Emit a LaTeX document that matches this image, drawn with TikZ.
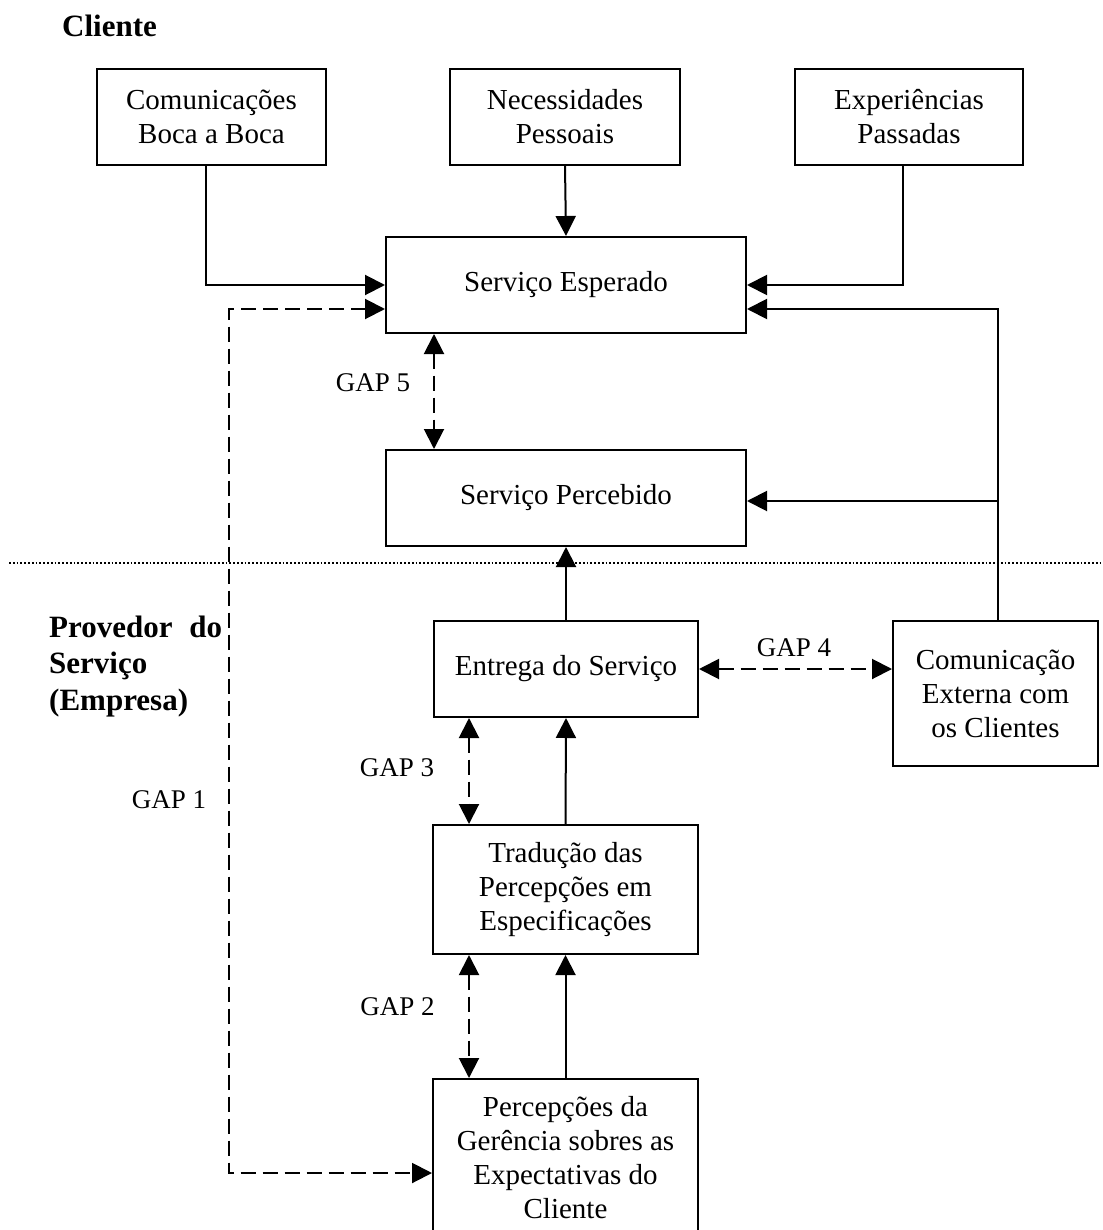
\documentclass[tikz,border=0pt]{standalone}
\usepackage{fontspec}
\setmainfont{Liberation Serif}
\usetikzlibrary{arrows.meta}
\begin{document}
\begin{tikzpicture}[x=1pt,y=-1pt,
  box/.style={draw,line width=2pt,inner sep=0pt,align=center,
    font=\fontsize{29}{34}\selectfont},
  arr/.style={line width=2pt,-{Triangle[length=20pt,width=20pt]}},
  gap/.style={line width=2pt,dash pattern=on 15pt off 7pt,
    {Triangle[length=20pt,width=20pt]}-{Triangle[length=20pt,width=20pt]}},
  gaplabel/.style={font=\fontsize{27}{32}\selectfont,inner sep=0pt},
  heading/.style={font=\bfseries\fontsize{31}{36.5}\selectfont,inner sep=0pt}]

\useasboundingbox (0,0) rectangle (1102,1230);
\clip (0,0) rectangle (1102,1230);

% section headings
\node[heading,anchor=base west] (cli) at (62,37) {Cliente};
\node[heading,anchor=base west,align=left] (prov) at (49,710)
  {\makebox[173pt][s]{Provedor do}\\Serviço\\(Empresa)};

% separator between customer and provider
\draw[line width=2pt,dash pattern=on 1.8pt off 2pt] (9,563) -- (1102,563);

% customer side
\node[box,minimum width=229pt,minimum height=96pt] (boca) at (211.5,117)
  {Comunicações\\Boca a Boca};
\node[box,minimum width=230pt,minimum height=96pt] (nec) at (565,117)
  {Necessidades\\Pessoais};
\node[box,minimum width=228pt,minimum height=96pt] (exp) at (909,117)
  {Experiências\\Passadas};
\node[box,minimum width=360pt,minimum height=96pt] (esp) at (566,285)
  {Serviço Esperado};
\node[box,minimum width=360pt,minimum height=96pt] (perc) at (566,498)
  {Serviço Percebido};

% provider side
\node[box,minimum width=264pt,minimum height=96pt] (ent) at (566,669)
  {Entrega do Serviço};
\node[box,minimum width=205pt,minimum height=145pt] (com) at (995.5,693.5)
  {Comunicação\\Externa com\\os Clientes};
\node[box,minimum width=265pt,minimum height=129pt] (trad) at (565.5,889.5)
  {Tradução das\\Percepções em\\Especificações};
\node[box,minimum width=265pt,minimum height=158pt] (ger) at (565.5,1158)
  {Percepções da\\Gerência sobres as\\Expectativas do\\Cliente};

% influences on the expected service
\draw[arr] ([xshift=-5.5pt]boca.south) |- (esp.west);
\draw[arr] (nec.south) -- (esp.north);
\draw[arr] ([xshift=-6pt]exp.south) |- (esp.east);
\coordinate (cup) at ([xshift=2.5pt]com.north);
\coordinate (espin) at ([yshift=-24pt]esp.east);
\draw[arr] (cup) |- (espin);
\coordinate (percin) at ([yshift=-3pt]perc.east);
\draw[arr] (cup |- percin) -- (percin);

% service chain
\draw[arr] (ent.north) -- (perc.south);
\draw[arr] (trad.north) -- (ent.south);
\draw[arr] (ger.north) -- (trad.south);

% gaps
\coordinate (g5) at ([xshift=-132pt]esp.south);
\draw[gap] (g5) -- (g5 |- perc.north);
\node[gaplabel] (l5) at (373,383) {GAP 5};

\draw[gap] (ent.east) -- (com.west |- ent.east);
\node[gaplabel] (l4) at (794,648) {GAP 4};

\coordinate (g3) at ([xshift=-97pt]ent.south);
\draw[gap] (g3) -- (g3 |- trad.north);
\node[gaplabel] (l3) at (397,768) {GAP 3};

\coordinate (g2) at ([xshift=-96.5pt]trad.south);
\draw[gap] (g2) -- (g2 |- ger.north);
\node[gaplabel] (l2) at (397.5,1007) {GAP 2};

\coordinate (g1a) at ([yshift=-24pt]esp.west);
\coordinate (g1b) at ([yshift=-15pt]ger.west);
\draw[gap] (g1a) -- ++(-156,0) |- (g1b);
\node[gaplabel] (l1) at (169,800) {GAP 1};
\end{tikzpicture}
\end{document}
